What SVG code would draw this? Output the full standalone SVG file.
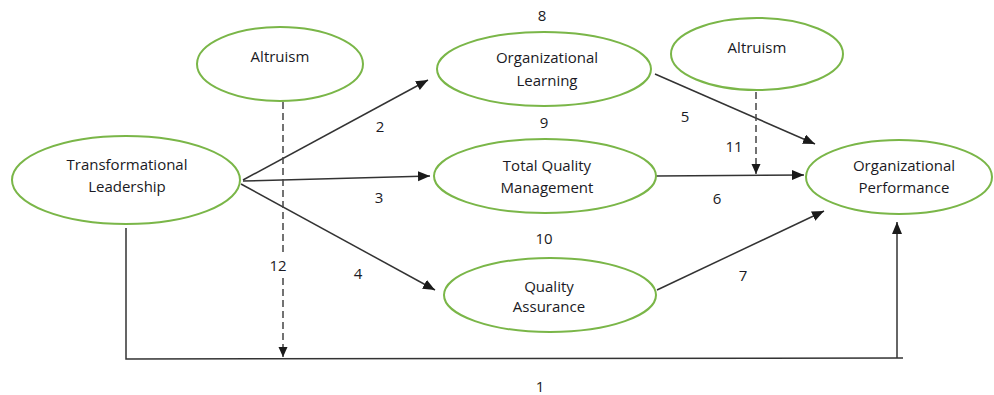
<svg xmlns="http://www.w3.org/2000/svg" width="994" height="395" viewBox="0 0 994 395">
<defs>
<marker id="ah" markerUnits="userSpaceOnUse" markerWidth="14" markerHeight="12" refX="12" refY="5" orient="auto">
<path d="M0,0 L12,5 L0,10 Z" fill="#1a1a1a"/>
</marker>
<marker id="ahs" markerUnits="userSpaceOnUse" markerWidth="12" markerHeight="10" refX="10" refY="4.5" orient="auto">
<path d="M0,0 L10,4.5 L0,9 Z" fill="#1a1a1a"/>
</marker>
<style>
.node ellipse{fill:#fff;stroke:#7ab648;stroke-width:2}
text{font-family:"Open Sans","Liberation Sans",sans-serif;font-size:15px;fill:#1a1a24;text-anchor:middle}
.c{fill:none;stroke:#333;stroke-width:1.5}
.d{fill:none;stroke:#444;stroke-width:1.5;stroke-dasharray:7,4}
</style>
</defs>
<rect width="994" height="395" fill="#fff"/>
<g id="connectors">
<line class="c" x1="243" y1="180" x2="428" y2="80" marker-end="url(#ah)"/>
<line class="c" x1="243" y1="181" x2="430" y2="176" marker-end="url(#ah)"/>
<line class="c" x1="241" y1="184" x2="435" y2="290" marker-end="url(#ah)"/>
<line class="c" x1="655" y1="74" x2="815" y2="144" marker-end="url(#ah)"/>
<line class="c" x1="656" y1="176" x2="804" y2="175" marker-end="url(#ah)"/>
<line class="c" x1="657" y1="290" x2="824" y2="211" marker-end="url(#ah)"/>
<line class="d" x1="283" y1="102" x2="283" y2="357" marker-end="url(#ahs)"/>
<line class="d" x1="756" y1="92" x2="756" y2="174" marker-end="url(#ahs)"/>
<polyline class="c" points="126,228 126,359 903,358"/>
<line class="c" x1="897" y1="358" x2="897" y2="222" marker-end="url(#ah)"/>
</g>
<g id="altruism-left" class="node"><ellipse cx="280" cy="64" rx="83" ry="37"/><text x="280" y="62">Altruism</text></g>
<g id="transformational-leadership" class="node"><ellipse cx="126" cy="180" rx="114" ry="44"/><text x="127" y="170">Transformational</text><text x="127" y="192">Leadership</text></g>
<g id="organizational-learning" class="node"><ellipse cx="544" cy="69" rx="107" ry="37"/><text x="547" y="63">Organizational</text><text x="547" y="86">Learning</text></g>
<g id="total-quality-management" class="node"><ellipse cx="545" cy="176" rx="111" ry="37"/><text x="547" y="171">Total Quality</text><text x="547" y="193">Management</text></g>
<g id="altruism-right" class="node"><ellipse cx="757" cy="54" rx="86" ry="36"/><text x="757" y="53">Altruism</text></g>
<g id="organizational-performance" class="node"><ellipse cx="899" cy="177" rx="93" ry="37"/><text x="904" y="171">Organizational</text><text x="904" y="193">Performance</text></g>
<g id="quality-assurance" class="node"><ellipse cx="550" cy="295" rx="106" ry="37"/><text x="549" y="292">Quality</text><text x="549" y="312">Assurance</text></g>
<g id="labels">
<text x="542" y="21">8</text>
<text x="544" y="128">9</text>
<text x="380" y="132">2</text>
<text x="379" y="203">3</text>
<text x="685" y="122">5</text>
<text x="734" y="152">11</text>
<text x="717" y="204">6</text>
<text x="544" y="244">10</text>
<rect x="268" y="256" width="20" height="22" fill="#fff"/>
<text x="278" y="271">12</text>
<text x="358" y="279">4</text>
<text x="743" y="281">7</text>
<text x="540" y="392">1</text>
</g>
</svg>
